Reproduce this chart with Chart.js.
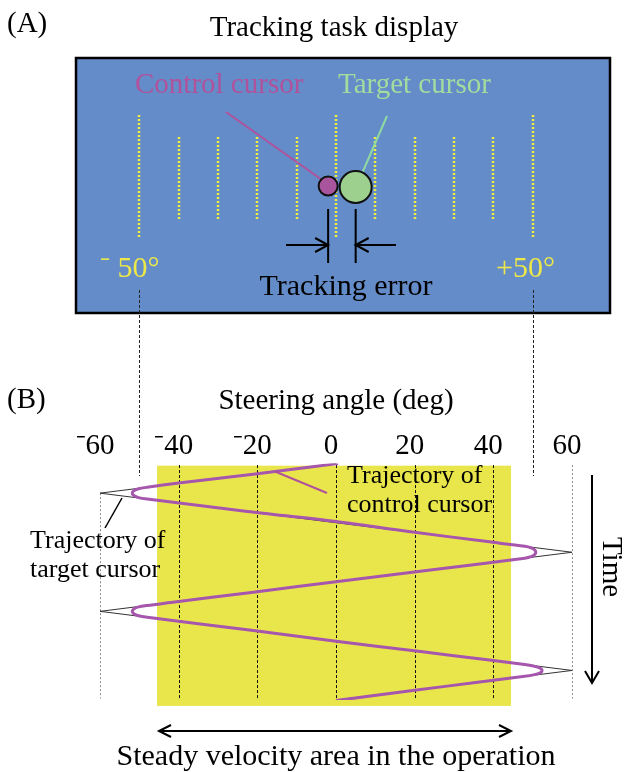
<!DOCTYPE html>
<html>
<head>
<meta charset="utf-8">
<title>Tracking task</title>
<script src="https://cdn.jsdelivr.net/npm/chart.js@4.4.0/dist/chart.umd.min.js"></script>
<style>
  html, body { margin: 0; padding: 0; background: #fff; }
  #chart { display: block; }
</style>
</head>
<body>
<canvas id="chart" width="625" height="772"></canvas>
<script>
// steering angle ticks (deg), panel B
const angleTicks = [-60, -40, -20, 0, 20, 40, 60];

// marks on the tracking display, panel A (deg)
const displayMarks = [-50, -40, -30, -20, -10, 0, 10, 20, 30, 40, 50];
const longMarks = [-50, 0, 50];

// cursor positions on the display (deg)
const controlCursorDeg = -2;
const targetCursorDeg = 5;

// target cursor, triangle wave (time runs downwards)
const targetTime = [0, 1, 3, 5, 7, 8];
const targetAngle = [0, -60, 60, -60, 60, 0];

// control cursor
const controlTime = [
  0.00, 0.35, 0.66, 0.80, 0.85, 0.92, 1.00, 1.08, 1.15, 1.20,
  1.62, 1.96, 2.30, 2.64, 2.80, 2.85, 2.92, 3.00, 3.08, 3.15, 3.20,
  3.60, 3.99, 4.35, 4.70, 4.80, 4.85, 4.92, 5.00, 5.08, 5.15, 5.20,
  5.65, 6.02, 6.35, 6.65, 6.80, 6.85, 6.92, 7.00, 7.08, 7.15, 7.20,
  7.40, 7.68, 8.02
];
const controlAngle = [
  0.5, -20.5, -40, -48, -50.2, -51.4, -51.8, -51.4, -50.2, -48,
  -22.5, 0, 18.5, 38.5, 48, 49.6, 50.5, 50.8, 50.5, 49.6, 48,
  24, 0.5, -21, -42, -48, -50.2, -51.4, -51.8, -51.4, -50.2, -48,
  -21, 0.5, 21, 39, 48, 50.2, 51.9, 52.4, 51.9, 50.2, 48,
  36, 19.5, 0
];

// steady velocity area (yellow band)
const steadyAngle = [-45.5, 44.5];
const steadyTime = [0.07, 8.2];

const SERIF = "'Liberation Serif', 'Times New Roman', serif";

function seg(ctx, x0, y0, x1, y1) {
  ctx.beginPath();
  ctx.moveTo(x0, y0);
  ctx.lineTo(x1, y1);
  ctx.stroke();
}

// open V arrow head, tip at (x, y), pointing along (dx, dy)
function head(ctx, x, y, dx, dy, len, half) {
  const bx = x - dx * len, by = y - dy * len;
  ctx.beginPath();
  ctx.moveTo(bx - dy * half, by + dx * half);
  ctx.lineTo(x, y);
  ctx.lineTo(bx + dy * half, by - dx * half);
  ctx.stroke();
}

const panelA = {
  id: "panelA",
  beforeDraw(chart) {
    const ctx = chart.ctx;
    const xs = (v) => chart.scales.x.getPixelForValue(v);
    ctx.save();
    ctx.fillStyle = "#000";
    ctx.font = "29px " + SERIF;
    ctx.textAlign = "left";
    ctx.fillText("(A)", 7, 32);
    ctx.textAlign = "center";
    ctx.fillText("Tracking task display", 334, 36);

    // display
    ctx.fillStyle = "#648cc8";
    ctx.fillRect(76, 58, 534, 255);
    ctx.lineWidth = 2.5;
    ctx.strokeStyle = "#000";
    ctx.strokeRect(76, 58, 534, 255);

    // connectors down to panel B
    ctx.lineWidth = 1;
    ctx.strokeStyle = "#222";
    ctx.setLineDash([3, 2]);
    [-50, 50].forEach((v) => {
      const px = Math.round(xs(v)) + 0.5;
      seg(ctx, px, 290, px, 476);
    });

    // dotted marks
    ctx.strokeStyle = "#f4f03a";
    ctx.lineWidth = 2.5;
    ctx.setLineDash([2, 2]);
    displayMarks.forEach((v) => {
      const long = longMarks.includes(v);
      const px = Math.round(xs(v));
      seg(ctx, px, long ? 115 : 137, px, long ? 237 : 219);
    });
    ctx.setLineDash([]);

    // labels
    ctx.font = "29px " + SERIF;
    ctx.textAlign = "left";
    ctx.fillStyle = "#b0529c";
    ctx.fillText("Control cursor", 135, 93);
    ctx.fillStyle = "#a3dc9e";
    ctx.fillText("Target cursor", 338, 93);
    ctx.fillStyle = "#ece84a";
    ctx.font = "30px " + SERIF;
    ctx.fillText("\u207B 50\u00B0", 100, 277);
    ctx.fillText("+50\u00B0", 496, 277);

    const cx = xs(controlCursorDeg), tx = xs(targetCursorDeg);

    // pointers
    ctx.lineWidth = 2;
    ctx.strokeStyle = "#b0529c";
    seg(ctx, 226, 112, cx - 6, 180);
    ctx.strokeStyle = "#8fd9a3";
    seg(ctx, 387, 116, tx + 7, 172);

    // cursors
    ctx.lineWidth = 2;
    ctx.strokeStyle = "#111";
    ctx.fillStyle = "#a8559e";
    ctx.beginPath();
    ctx.arc(cx, 186, 9.5, 0, Math.PI * 2);
    ctx.fill();
    ctx.stroke();
    ctx.fillStyle = "#9dd08f";
    ctx.beginPath();
    ctx.arc(tx, 187, 16, 0, Math.PI * 2);
    ctx.fill();
    ctx.stroke();

    // tracking error
    ctx.strokeStyle = "#000";
    seg(ctx, cx, 209, cx, 263);
    seg(ctx, tx, 209, tx, 263);
    seg(ctx, 286, 245, cx, 245);
    head(ctx, cx, 245, 1, 0, 13, 7);
    seg(ctx, 396, 245, tx, 245);
    head(ctx, tx, 245, -1, 0, 13, 7);
    ctx.fillStyle = "#000";
    ctx.font = "30px " + SERIF;
    ctx.textAlign = "center";
    ctx.fillText("Tracking error", 346, 295);
    ctx.restore();
  }
};

const panelB = {
  id: "panelB",
  beforeDatasetsDraw(chart) {
    const ctx = chart.ctx;
    const xs = (v) => chart.scales.x.getPixelForValue(v);
    const ts = (v) => chart.scales.y.getPixelForValue(v);
    ctx.save();
    ctx.fillStyle = "#e9e64b";
    ctx.fillRect(xs(steadyAngle[0]), ts(steadyTime[0]),
      xs(steadyAngle[1]) - xs(steadyAngle[0]), ts(steadyTime[1]) - ts(steadyTime[0]));

    ctx.lineWidth = 1;
    angleTicks.forEach((v) => {
      const px = Math.round(xs(v)) + 0.5;
      const edge = Math.abs(v) === 60;
      ctx.strokeStyle = edge ? "#8c8c8c" : "#111";
      ctx.setLineDash(edge ? [2, 2] : [3, 2]);
      const top = v === targetAngle[1] ? ts(targetTime[1]) : ts(0.05);
      seg(ctx, px, top, px, ts(7.95));
    });
    ctx.restore();
  },
  afterDatasetsDraw(chart) {
    const ctx = chart.ctx;
    ctx.save();
    ctx.fillStyle = "#000";
    ctx.font = "29px " + SERIF;
    ctx.textAlign = "left";
    ctx.fillText("(B)", 7, 408);

    ctx.font = "26px " + SERIF;
    ctx.fillText("Trajectory of", 347, 483);
    ctx.fillText("control cursor", 347, 511.5);
    ctx.fillText("Trajectory of", 30, 548);
    ctx.fillText("target cursor", 30, 577);

    ctx.lineWidth = 2;
    ctx.strokeStyle = "#b0529c";
    seg(ctx, 275, 471.5, 327, 493);
    ctx.lineWidth = 1.5;
    ctx.strokeStyle = "#000";
    seg(ctx, 122, 498, 105, 528);

    // time arrow
    ctx.lineWidth = 2;
    seg(ctx, 592, 475, 592, 683);
    head(ctx, 592, 683, 0, 1, 12, 7);
    ctx.save();
    ctx.translate(603, 567);
    ctx.rotate(Math.PI / 2);
    ctx.textAlign = "center";
    ctx.font = "29px " + SERIF;
    ctx.fillText("Time", 0, 0);
    ctx.restore();

    // steady velocity area
    seg(ctx, 159, 731, 511, 731);
    head(ctx, 159, 731, -1, 0, 12, 6);
    head(ctx, 511, 731, 1, 0, 12, 6);
    ctx.font = "30px " + SERIF;
    ctx.textAlign = "center";
    ctx.fillText("Steady velocity area in the operation", 336, 765);
    ctx.restore();
  }
};

new Chart(document.getElementById("chart"), {
  type: "scatter",
  data: {
    datasets: [
      {
        label: "Trajectory of control cursor",
        data: controlTime.map((t, i) => ({ x: controlAngle[i], y: t })),
        showLine: true,
        borderColor: "#a656ad",
        borderWidth: 3,
        pointRadius: 0,
        tension: 0.3,
        order: 0,
      },
      {
        label: "Trajectory of target cursor",
        data: targetTime.map((t, i) => ({ x: targetAngle[i], y: t })),
        showLine: true,
        borderColor: "#333",
        borderWidth: 1,
        pointRadius: 0,
        order: 1,
      },
    ],
  },
  options: {
    responsive: false,
    animation: false,
    devicePixelRatio: 1,
    layout: { padding: { top: 384, left: 100, right: 53, bottom: 72 } },
    plugins: { legend: { display: false }, tooltip: { enabled: false } },
    scales: {
      x: {
        type: "linear",
        position: "top",
        min: -60,
        max: 60,
        afterBuildTicks: (axis) => {
          axis.ticks = angleTicks.map((v) => ({ value: v }));
        },
        ticks: {
          autoSkip: false,
          maxRotation: 0,
          padding: 0,
          labelOffset: -5,
          color: "#000",
          font: { family: SERIF, size: 29 },
          callback: (v) => (v < 0 ? "\u207B" + -v : String(v)),
        },
        grid: { display: false, drawTicks: false },
        border: { display: false },
        title: {
          display: true,
          text: "Steering angle (deg)",
          color: "#000",
          font: { family: SERIF, size: 29 },
          padding: { top: 0, bottom: 10 },
        },
      },
      y: { display: false, min: 0, max: 8, reverse: true },
    },
  },
  plugins: [panelA, panelB],
});
</script>
</body>
</html>
